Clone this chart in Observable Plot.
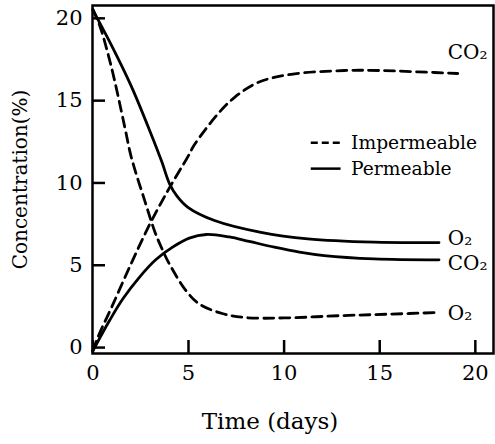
<!DOCTYPE html>
<html>
<head>
<meta charset="utf-8">
<script src="https://cdn.jsdelivr.net/npm/d3@7"></script>
<script src="https://cdn.jsdelivr.net/npm/@observablehq/plot@0.6"></script>
<style>
  html, body { margin: 0; padding: 0; background: white; }
</style>
</head>
<body>
<div id="chart"></div>
<script>
// Impermeable (dashed) O2
const impO2Days = [0, 0.36, 0.97, 1.67, 2.01, 2.71, 3.22, 3.58, 4.0, 4.87, 5.56, 6.76, 8.0, 10, 13, 15.5, 18.04];
const impO2Vals = [20.55, 19.55, 17.03, 13.38, 11.56, 8.93, 7.1, 6.09, 5.08, 3.46, 2.65, 2.07, 1.82, 1.8, 1.94, 2.03, 2.13];
// Impermeable (dashed) CO2
const impCO2Days = [0, 0.26, 1.0, 2.0, 3.0, 4.0, 4.97, 5.3, 6.54, 7.41, 8.63, 10.37, 13.15, 15, 17, 19.08];
const impCO2Vals = [-0.2, 0.63, 2.5, 5.1, 7.55, 9.7, 11.6, 12.3, 14.2, 15.2, 16.1, 16.6, 16.83, 16.83, 16.75, 16.65];
// Permeable (solid) O2
const perO2Days = [0, 1.0, 2.0, 3.0, 3.6, 4.01, 4.4, 4.97, 6.36, 8.79, 11.24, 14.71, 18.1];
const perO2Vals = [20.5, 18.3, 15.9, 13.1, 11.3, 9.95, 9.2, 8.52, 7.72, 7.0, 6.6, 6.4, 6.38];
// Permeable (solid) CO2
const perCO2Days = [0, 0.87, 1.56, 2.43, 3.3, 4.17, 5.04, 5.93, 7.13, 8.17, 9.49, 10.8, 12.1, 14.71, 18.1];
const perCO2Vals = [-0.2, 1.64, 2.95, 4.27, 5.35, 6.1, 6.65, 6.87, 6.72, 6.45, 6.1, 5.8, 5.59, 5.39, 5.33];

const xTicks = [0, 5, 10, 15, 20];
const yTicks = [0, 5, 10, 15, 20];

// End-of-line labels
const endLabels = ["CO₂", "O₂", "CO₂", "O₂"];
const endLabelX = [18.56, 18.56, 18.56, 18.56];
const endLabelY = [17.9, 6.62, 5.1, 2.07];

// Legend
const legendLabels = ["Impermeable", "Permeable"];
const legendY = [12.45, 10.87];
const legendX1 = 11.42, legendX2 = 12.98, legendTextX = 13.5;

const toRows = (days, vals, name) => days.map((d, i) => ({day: d, value: vals[i], series: name}));
const impermeable = [...toRows(impO2Days, impO2Vals, "O2"), ...toRows(impCO2Days, impCO2Vals, "CO2")];
const permeable = [...toRows(perO2Days, perO2Vals, "O2"), ...toRows(perCO2Days, perCO2Vals, "CO2")];
const labelRows = endLabels.map((t, i) => ({t, x: endLabelX[i], y: endLabelY[i]}));
const legendRows = legendLabels.map((t, i) => ({t, y: legendY[i], x1: legendX1, x2: legendX2, tx: legendTextX}));

const W = 495, H = 444, mL = 92, mR = 2, mT = 5, mB = 91;
const innerW = W - mL - mR, innerH = H - mT - mB;

const chart = Plot.plot({
  width: W, height: H,
  marginLeft: mL, marginRight: mR, marginTop: mT, marginBottom: mB,
  x: {domain: [-0.02, 20.95]},
  y: {domain: [-0.36, 20.78]},
  style: {fontFamily: "DejaVu Serif", fontSize: "21px", background: "white", color: "black"},
  marks: [
    Plot.axisX({ticks: xTicks, tickSize: 0, tickPadding: 12, label: null, fontSize: 21}),
    Plot.axisY({ticks: yTicks, tickSize: 0, tickPadding: 10, label: null, fontSize: 21}),
    Plot.tickX(xTicks, {x: d => d, insetTop: innerH - 13, stroke: "black", strokeWidth: 2.5}),
    Plot.tickY(yTicks, {y: d => d, insetRight: innerW - 13, stroke: "black", strokeWidth: 2.5}),
    Plot.line(impermeable, {x: "day", y: "value", z: "series", curve: "catmull-rom", stroke: "black", strokeWidth: 2.8, strokeDasharray: "10,6"}),
    Plot.line(permeable, {x: "day", y: "value", z: "series", curve: "catmull-rom", stroke: "black", strokeWidth: 2.8}),
    Plot.text(labelRows, {x: "x", y: "y", text: "t", textAnchor: "start", fontSize: 20, fill: "black"}),
    Plot.ruleY([legendRows[0]], {y: "y", x1: "x1", x2: "x2", stroke: "black", strokeWidth: 2.5, strokeDasharray: "7,4"}),
    Plot.ruleY([legendRows[1]], {y: "y", x1: "x1", x2: "x2", stroke: "black", strokeWidth: 2.5}),
    Plot.text(legendRows, {x: "tx", y: "y", text: "t", textAnchor: "start", fontSize: 18.7, fill: "black"}),
    Plot.text(["Concentration(%)"], {frameAnchor: "left", textAnchor: "middle", rotate: -90, dx: -72, fontSize: 20, fill: "black"}),
    Plot.text(["Time (days)"], {frameAnchor: "bottom", textAnchor: "middle", dy: 75, dx: -23, fontSize: 23, fill: "black"}),
    Plot.frame({stroke: "black", strokeWidth: 2.5})
  ]
});
document.getElementById("chart").appendChild(chart);
</script>
</body>
</html>
